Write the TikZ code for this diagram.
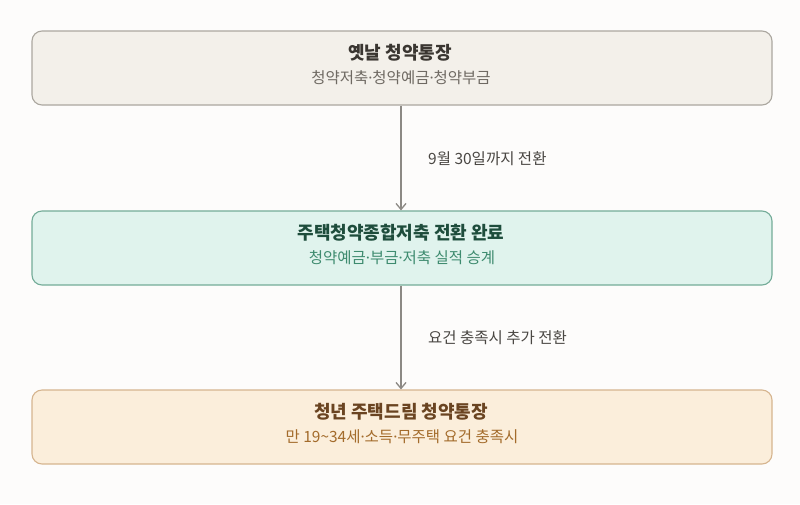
\documentclass[tikz,border=0pt]{standalone}
\usepackage{fontspec}
\setmainfont{Noto Sans CJK KR}
\newfontfamily\latinfont{Noto Sans}
\newcommand{\mdot}{{\latinfont ·}}
\usetikzlibrary{arrows.meta}
\definecolor{bgc}{HTML}{FDFCFB}
\definecolor{topfill}{HTML}{F3F0EA}
\definecolor{topdraw}{HTML}{ABA79F}
\definecolor{toptitle}{HTML}{3A3631}
\definecolor{topsub}{HTML}{6E6962}
\definecolor{midfill}{HTML}{E0F3ED}
\definecolor{middraw}{HTML}{74AC98}
\definecolor{midtitle}{HTML}{1E4D3C}
\definecolor{midsub}{HTML}{3E8B6F}
\definecolor{botfill}{HTML}{FBEEDB}
\definecolor{botdraw}{HTML}{D6B58F}
\definecolor{bottitle}{HTML}{6A4421}
\definecolor{botsub}{HTML}{A36B2B}
\definecolor{arrowc}{HTML}{8C8984}
\definecolor{labelc}{HTML}{4A4743}
\begin{document}
\begin{tikzpicture}[x=1pt,y=-1pt,
  stagebox/.style={draw, line width=1.1pt, rounded corners=10pt, minimum width=740pt, minimum height=74pt, inner sep=0pt},
  titletext/.style={font=\fontsize{18}{21}\selectfont\bfseries, inner sep=0pt},
  subtext/.style={font=\fontsize{15.5}{18}\selectfont, inner sep=0pt},
  flow/.style={draw=arrowc, line width=1.3pt, -{Straight Barb[length=6pt,width=10pt,line width=1.3pt]}},
  flowlabel/.style={font=\fontsize{15.5}{18}\selectfont, text=labelc, anchor=west, inner sep=0pt}
]
\fill[bgc] (0,0) rectangle (800,504);
\useasboundingbox (0,0) rectangle (800,504);

\node[stagebox, draw=topdraw, fill=topfill] (old) at (402,68) {};
\node[titletext, text=toptitle] (oldt) at (400,53) {옛날 청약통장};
\node[subtext, text=topsub] (olds) at (401,78) {청약저축\mdot 청약예금\mdot 청약부금};

\node[stagebox, draw=middraw, fill=midfill] (mid) at (402,248) {};
\node[titletext, text=midtitle] (midt) at (401,233) {주택청약종합저축 전환 완료};
\node[subtext, text=midsub] (mids) at (402,258) {청약예금\mdot 부금\mdot 저축 실적 승계};

\node[stagebox, draw=botdraw, fill=botfill] (bot) at (402,427) {};
\node[titletext, text=bottitle] (bott) at (401,412) {청년 주택드림 청약통장};
\node[subtext, text=botsub] (bots) at (402,437) {만 19\textasciitilde34세\mdot 소득\mdot 무주택 요건 충족시};

\draw[flow] (old.south -| 401,0) -- (mid.north -| 401,0);
\draw[flow] (mid.south -| 401,0) -- (bot.north -| 401,0);

\node[flowlabel] (l1) at (428,159) {9월 30일까지 전환};
\node[flowlabel] (l2) at (428,338) {요건 충족시 추가 전환};
\end{tikzpicture}
\end{document}
